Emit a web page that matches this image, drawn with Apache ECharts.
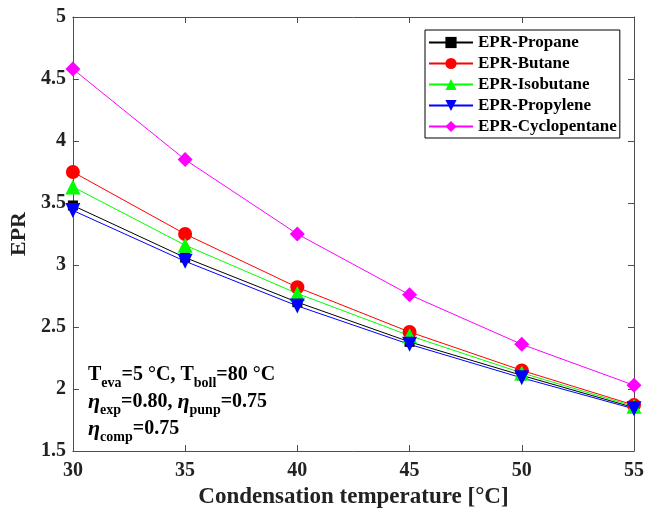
<!DOCTYPE html>
<html>
<head>
<meta charset="utf-8">
<script src="https://cdn.jsdelivr.net/npm/echarts@6/dist/echarts.min.js"></script>
<style>
  html, body { margin: 0; padding: 0; background: #fff; }
  #chart { width: 657px; height: 514px; }
</style>
</head>
<body>
<div id="chart"></div>
<script>
// Condensation temperatures [°C]
const temperatures = [30, 35, 40, 45, 50, 55];

// EPR for each working fluid
const propane      = [3.48, 3.06, 2.70, 2.38, 2.11, 1.85];
const butane       = [3.75, 3.25, 2.82, 2.46, 2.15, 1.87];
const isobutane    = [3.63, 3.16, 2.77, 2.43, 2.13, 1.86];
const propylene    = [3.44, 3.03, 2.67, 2.36, 2.09, 1.84];
const cyclopentane = [4.58, 3.85, 3.25, 2.76, 2.36, 2.03];

const yTicks = [1.5, 2, 2.5, 3, 3.5, 4, 4.5, 5];

const FONT = '"Liberation Serif", "Times New Roman", serif';
const AXIS_COLOR = '#4d4d4d';
const TEXT_COLOR = '#222222';

function pairs(vals) {
  return temperatures.map((t, i) => [t, vals[i]]);
}

const seriesDefs = [
  { name: 'EPR-Propane', data: propane, color: '#000000', symbol: 'rect', size: 10 },
  { name: 'EPR-Butane', data: butane, color: '#ff0000', symbol: 'circle', size: 14 },
  { name: 'EPR-Isobutane', data: isobutane, color: '#00ff00', symbol: 'triangle', size: 15 },
  { name: 'EPR-Propylene', data: propylene, color: '#0000ff', symbol: 'path://M0,0 L10,0 L5,9 Z', size: 15 },
  { name: 'EPR-Cyclopentane', data: cyclopentane, color: '#ff00ff', symbol: 'diamond', size: 15 }
];

const chart = echarts.init(document.getElementById('chart'), null, { renderer: 'canvas' });

const axisCommon = {
  axisLine: { show: true, onZero: false, lineStyle: { color: AXIS_COLOR, width: 1 } },
  axisTick: { show: true, inside: true, length: 6, lineStyle: { color: AXIS_COLOR } },
  splitLine: { show: false }
};

chart.setOption({
  animation: false,
  backgroundColor: '#ffffff',
  grid: { left: 70, right: 23, top: 17, bottom: 56, containLabel: false },
  legend: {
    left: 425, top: 30,
    orient: 'vertical',
    backgroundColor: '#ffffff',
    borderColor: '#000000',
    borderWidth: 1,
    borderRadius: 0,
    padding: [4, 3, 3, 3],
    itemGap: 4,
    itemWidth: 44,
    itemHeight: 14,
    textStyle: { fontFamily: FONT, fontWeight: 'bold', fontSize: 17, lineHeight: 17, color: '#000' },
    data: seriesDefs.map(s => s.name)
  },
  xAxis: [{
    type: 'value', min: 30, max: 55, interval: 5,
    name: 'Condensation temperature [°C]',
    nameLocation: 'middle', nameGap: 35,
    nameTextStyle: { fontFamily: FONT, fontWeight: 'bold', fontSize: 23, color: TEXT_COLOR },
    axisLabel: { fontFamily: FONT, fontWeight: 'bold', fontSize: 20, color: TEXT_COLOR, margin: 10 },
    ...axisCommon
  }, {
    type: 'value', min: 30, max: 55, interval: 5, position: 'top',
    axisLabel: { show: false },
    ...axisCommon
  }],
  yAxis: [{
    type: 'value', min: 1.5, max: 5, interval: 0.5,
    name: 'EPR',
    nameLocation: 'middle', nameGap: 37,
    nameTextStyle: { fontFamily: FONT, fontWeight: 'bold', fontSize: 22, color: TEXT_COLOR },
    axisLabel: {
      fontFamily: FONT, fontWeight: 'bold', fontSize: 20, color: TEXT_COLOR, margin: 7,
      formatter: v => (yTicks.includes(v) ? String(v) : '')
    },
    ...axisCommon
  }, {
    type: 'value', min: 1.5, max: 5, interval: 0.5, position: 'right',
    axisLabel: { show: false },
    ...axisCommon
  }],
  series: seriesDefs.map(s => ({
    name: s.name,
    type: 'line',
    data: pairs(s.data),
    symbol: s.symbol,
    symbolSize: s.size,
    showAllSymbol: true,
    lineStyle: { color: s.color, width: 1 },
    itemStyle: { color: s.color, borderWidth: 0 },
    clip: false
  })),
  graphic: [{
    type: 'text',
    left: 88, top: 364,
    style: {
      text: [
        '{m|T}{s|eva}{m|=5 °C, T}{s|boll}{m|=80 °C}',
        '{e|η}{s|exp}{m|=0.80, }{e|η}{s|punp}{m|=0.75}',
        '{e|η}{s|comp}{m|=0.75}'
      ].join('\n'),
      fill: '#000',
      rich: {
        m: { fontFamily: FONT, fontWeight: 'bold', fontSize: 20, lineHeight: 27, verticalAlign: 'top', padding: [1, 0, 0, 0] },
        e: { fontFamily: FONT, fontWeight: 'bold', fontStyle: 'italic', fontSize: 22, lineHeight: 27, verticalAlign: 'top', padding: [0, 0, 0, 0] },
        s: { fontFamily: FONT, fontWeight: 'bold', fontSize: 14, lineHeight: 27, verticalAlign: 'top', padding: [12, 0, 0, 0] }
      }
    }
  }]
});
</script>
</body>
</html>
